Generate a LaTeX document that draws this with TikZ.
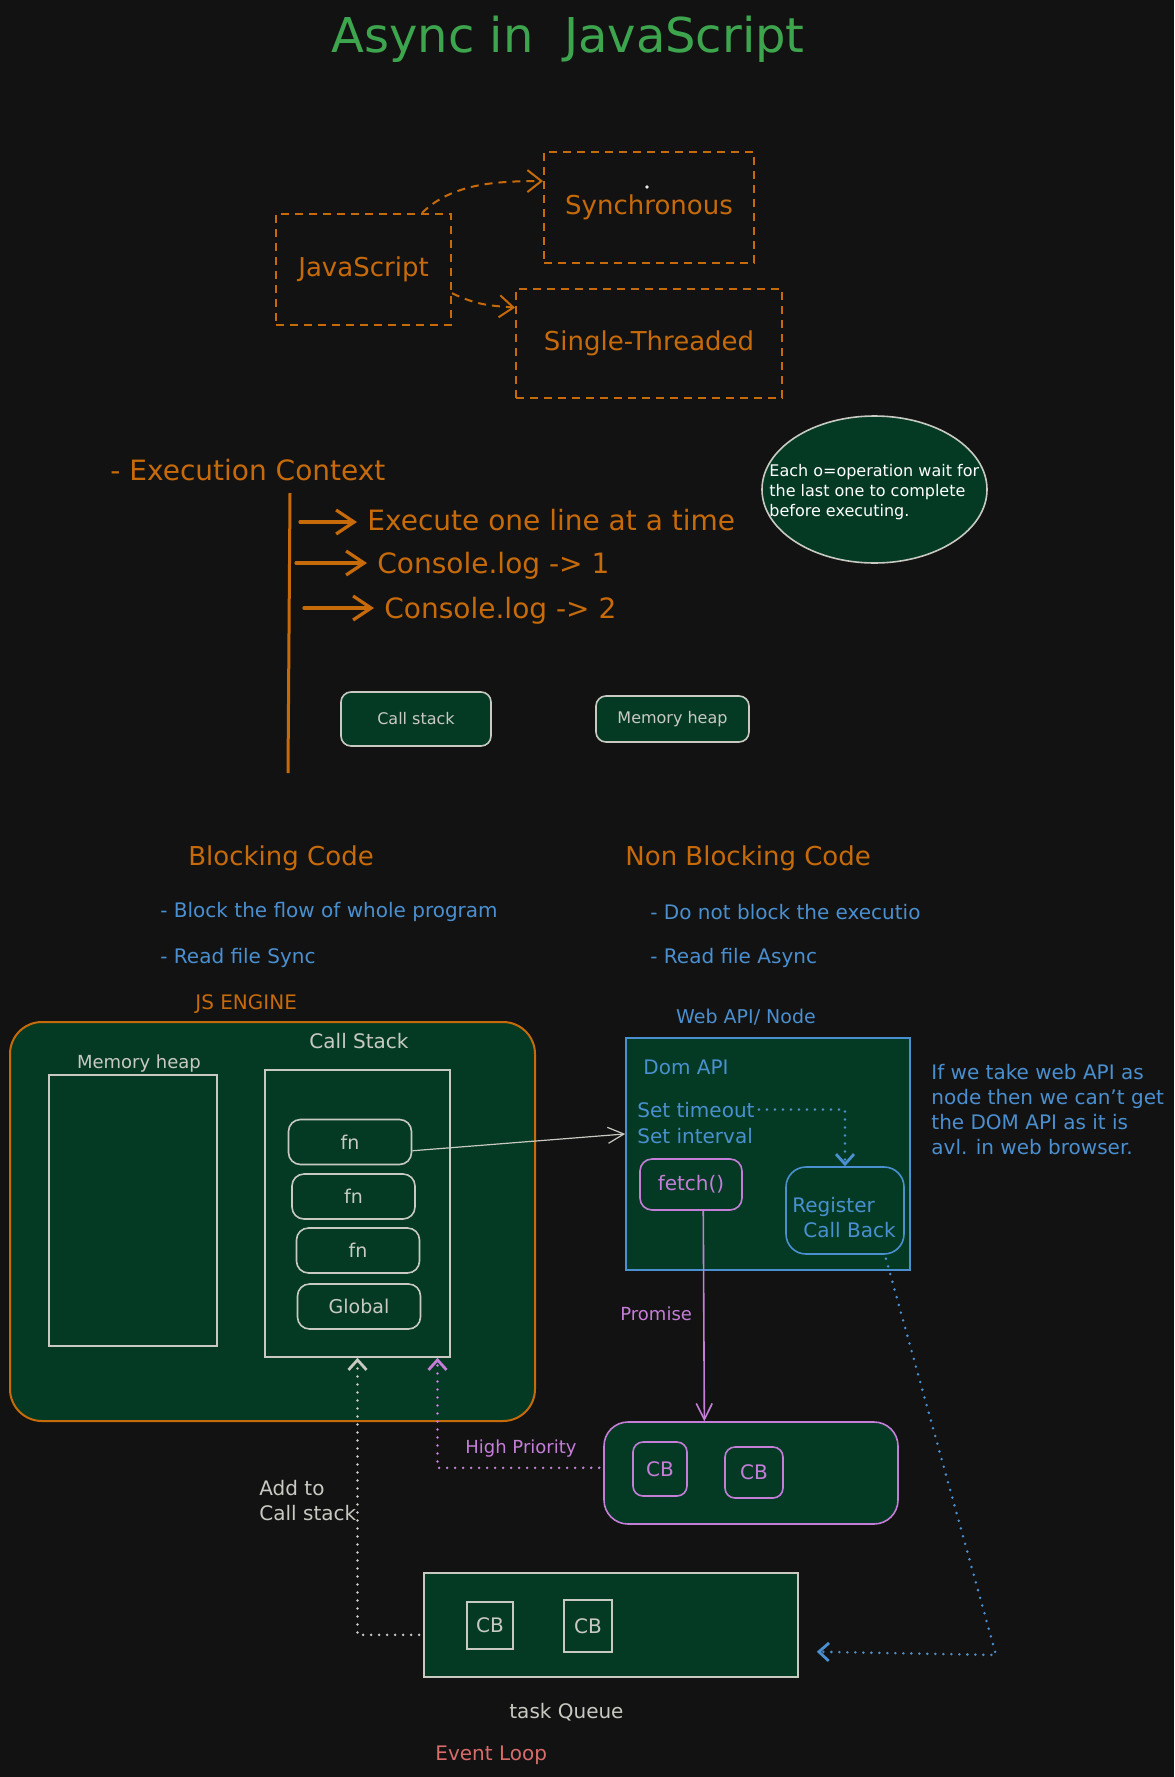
\documentclass[tikz,border=0pt]{standalone}
\usepackage{fontspec}
\setmainfont{DejaVu Sans}
\usetikzlibrary{arrows.meta,shapes.geometric}

\definecolor{bgdark}{HTML}{121212}
\definecolor{leaf}{HTML}{3DA54E}
\definecolor{amber}{HTML}{C66A0A}
\definecolor{deep}{HTML}{043A24}
\definecolor{pale}{HTML}{C8CAC2}
\definecolor{sky}{HTML}{4A8FCF}
\definecolor{orchid}{HTML}{C47ED8}
\definecolor{coral}{HTML}{D96B6B}

\newcommand{\txtsize}[1]{\fontsize{#1}{#1}\selectfont}

\tikzset{
  lbl/.style={inner sep=0pt, anchor=base west},
  ctr/.style={inner sep=0pt, anchor=base},
  dashbox/.style={draw=amber, line width=1pt, dash pattern=on 4pt off 3pt, inner sep=0pt, text=amber, font=\txtsize{13}},
  panel/.style={draw=pale, fill=deep, line width=0.8pt, inner sep=0pt},
  dashlink/.style={amber, line width=1pt, dash pattern=on 4pt off 3pt, -{Straight Barb[length=7pt,width=11pt]}},
  bigarrow/.style={amber, line width=1.6pt, line cap=round, shorten >=5pt, -{Straight Barb[length=9pt,width=12pt]}},
  dotlink/.style={line width=1.4pt, line cap=round, dash pattern=on 0pt off 4pt, shorten <=2pt, -{Straight Barb[length=5pt,width=9pt]}},
}

\begin{document}
\begin{tikzpicture}[x=0.5pt,y=-0.5pt]
  \path[use as bounding box, fill=bgdark] (0,0) rectangle (1174,1777);

  % title
  \node[ctr, leaf, font=\txtsize{24}] (title) at (568,53) {Async in\ \ JavaScript};

  % what javascript is
  \node[dashbox, minimum width=87.5pt, minimum height=55.5pt] (js) at (363.5,269.5) {JavaScript};
  \node[dashbox, minimum width=105pt, minimum height=55.5pt] (sync) at (649,207.5) {Synchronous};
  \node[dashbox, minimum width=133pt, minimum height=54.5pt] (single) at (649,343.5) {Single-Threaded};
  \fill[pale!40] (647,187) circle (0.9pt);
  \draw[dashlink] (js.44) .. controls +(30,-30) and +(-45,0) .. (sync.166);
  \draw[dashlink] (js.-15) .. controls +(25,12) and +(-25,-2) .. (single.165);

  % execution context
  \node[lbl, amber, font=\txtsize{14}] (ctx) at (110,480) {- Execution Context};
  \coordinate (railtop) at (290,493);
  \coordinate (railbot) at (288,773);
  \draw[amber, line width=1.5pt] (railtop) -- (railbot);
  \node[lbl, amber, font=\txtsize{14}] (exec) at (367,530) {Execute one line at a time};
  \node[lbl, amber, font=\txtsize{14}] (log1) at (377,573) {Console.log -> 1};
  \node[lbl, amber, font=\txtsize{14}] (log2) at (384,618) {Console.log -> 2};
  \coordinate (s1) at (300,522);
  \coordinate (s2) at (296,563);
  \coordinate (s3) at (304,608);
  \draw[bigarrow] (s1) -- (s1 -| exec.west);
  \draw[bigarrow] (s2) -- (s2 -| log1.west);
  \draw[bigarrow] (s3) -- (s3 -| log2.west);

  \node[panel, ellipse, minimum width=112.5pt, minimum height=73.5pt] (bubble) at (874.5,489.5) {};
  \foreach \t [count=\i] in {Each o=operation wait for, the last one to complete, before executing.}
    \node[lbl, white, font=\txtsize{8}] (bubble\i) at (769,456+20*\i) {\t};

  \node[panel, rounded corners=5pt, minimum width=75pt, minimum height=27pt, text=pale, font=\txtsize{8}] (stackcard) at (416,719) {Call stack};
  \node[panel, rounded corners=5pt, minimum width=76.5pt, minimum height=23pt, text=pale, font=\txtsize{8}] (heapcard) at (672.5,719) {Memory heap};

  % blocking vs non blocking
  \node[lbl, amber, font=\txtsize{13}] (blk) at (188,865) {Blocking Code};
  \node[lbl, amber, font=\txtsize{13}] (nonblk) at (625,865) {Non Blocking Code};
  \node[lbl, sky, font=\txtsize{10}] (blk1) at (160,917) {- Block the flow of whole program};
  \node[lbl, sky, font=\txtsize{10}] (blk2) at (160,963) {- Read file Sync};
  \node[lbl, sky, font=\txtsize{10}] (nonblk1) at (650,919) {- Do not block the executio};
  \node[lbl, sky, font=\txtsize{10}] (nonblk2) at (650,963) {- Read file Async};

  % js engine
  \node[lbl, amber, font=\txtsize{10}] (enginelbl) at (195,1009) {JS ENGINE};
  \node[draw=amber, fill=deep, line width=1pt, rounded corners=16pt, minimum width=262.5pt, minimum height=199.5pt] (engine) at (272.5,1221.5) {};
  \node[panel, minimum width=84pt, minimum height=135.5pt] (heap) at (133,1210.5) {};
  \node[panel, minimum width=92.5pt, minimum height=143.5pt] (cs) at (357.5,1213.5) {};
  \node[ctr, pale, font=\txtsize{9}] (heaplbl) at (139,1068) {Memory heap};
  \node[ctr, pale, font=\txtsize{10}] (cslbl) at (359,1048) {Call Stack};
  \foreach \n/\x/\y/\t in {fn1/350/1142/fn, fn2/353.5/1196.5/fn, fn3/358/1250.5/fn, glob/359/1306.5/Global}
    \node[panel, rounded corners=6pt, minimum width=61.5pt, minimum height=22.5pt, text=pale, font=\txtsize{9.5}] (\n) at (\x,\y) {\t};

  % web api
  \node[ctr, sky, font=\txtsize{9.5}] (weblbl) at (746,1023) {Web API/ Node};
  \node[panel, draw=sky, minimum width=142pt, minimum height=116pt] (web) at (768,1154) {};
  \node[lbl, sky, font=\txtsize{10}] (dom) at (643,1074) {Dom API};
  \node[lbl, sky, font=\txtsize{10}] (timeout) at (637,1117) {Set timeout};
  \node[lbl, sky, font=\txtsize{10}] (interval) at (637,1143) {Set interval};
  \node[panel, draw=orchid, rounded corners=6pt, minimum width=51pt, minimum height=25.5pt, text=orchid, font=\txtsize{10}] (fetch) at (691,1184.5) {fetch()};
  \node[panel, draw=sky, rounded corners=10pt, minimum width=59pt, minimum height=43.5pt] (reg) at (845,1210.5) {};
  \node[lbl, sky, font=\txtsize{10}] (reg1) at (792,1212) {Register};
  \node[lbl, sky, font=\txtsize{10}] (reg2) at (803,1237) {Call Back};
  \foreach \t [count=\i] in {If we take web API as, node then we can't get, the DOM API as it is, avl. in web browser.}
    \node[lbl, sky, font=\txtsize{10}] (aside\i) at (931,1054+25*\i) {\t};

  % queues
  \node[lbl, orchid, font=\txtsize{9}] (promise) at (620,1320) {Promise};
  \node[panel, draw=orchid, rounded corners=12pt, minimum width=147pt, minimum height=51pt] (micro) at (751,1473) {};
  \node[panel, draw=orchid, rounded corners=5pt, minimum width=27pt, minimum height=27pt, text=orchid, font=\txtsize{10}] (cb1) at (660,1469) {CB};
  \node[panel, draw=orchid, rounded corners=5pt, minimum width=29pt, minimum height=25.5pt, text=orchid, font=\txtsize{10}] (cb2) at (754,1472.5) {CB};
  \node[lbl, orchid, font=\txtsize{9}] (prio) at (465,1453) {High Priority};
  \node[lbl, pale, font=\txtsize{10}] (add1) at (259,1495) {Add to};
  \node[lbl, pale, font=\txtsize{10}] (add2) at (259,1520) {Call stack};
  \node[panel, minimum width=187pt, minimum height=52pt] (tq) at (611,1625) {};
  \node[panel, minimum width=23pt, minimum height=23.5pt, text=pale, font=\txtsize{10}] (cb3) at (490,1625.5) {CB};
  \node[panel, minimum width=24pt, minimum height=26pt, text=pale, font=\txtsize{10}] (cb4) at (588,1626) {CB};
  \node[lbl, pale, font=\txtsize{10}] (tqlbl) at (509,1718) {task Queue};
  \node[lbl, coral, font=\txtsize{10}] (loop) at (435,1760) {Event Loop};
  \coordinate (bend) at (996,1655);

  % connectors
  \draw[pale, line width=0.6pt, -{Straight Barb[length=8pt,width=8pt]}] (fn1.-8) -- (web.172);
  \draw[sky, dotlink] (timeout.east) -| (reg.north);
  \draw[orchid, line width=0.8pt, -{Straight Barb[length=8pt,width=8pt]}] (fetch.-65) -- (micro.132);
  \draw[orchid, dotlink] (micro.178) -| (cs.-61);
  \draw[pale, dotlink] (tq.183) -| (cs.south);
  \draw[sky, dotlink, shorten >=9pt] (reg.-48) -- (bend) -- (tq.-8);
\end{tikzpicture}
\end{document}
